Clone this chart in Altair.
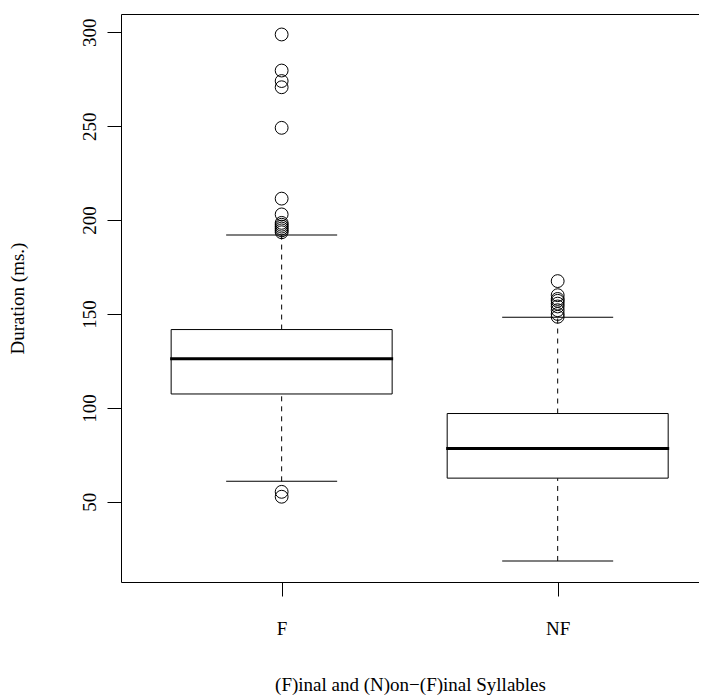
import altair as alt
import pandas as pd

groups = ["F", "NF"]
q1 = [107.4, 62.6]
median = [126.1, 78.4]
q3 = [141.7, 97.0]
whisk_lo = [60.9, 18.5]
whisk_hi = [192.0, 148.2]

outliers_F = [298.8, 279.6, 274.0, 270.7, 249.1, 211.4, 203.0, 198.5, 197.5,
              196.5, 195.5, 194.5, 193.5, 55.3, 52.7]
outliers_NF = [167.5, 160.0, 158.0, 157.0, 155.5, 154.0, 152.0, 150.0, 148.5]

y_ticks = [50, 100, 150, 200, 250, 300]

stats = pd.DataFrame({
    "group": groups, "q1": q1, "median": median, "q3": q3,
    "lo": whisk_lo, "hi": whisk_hi,
})
outs = pd.DataFrame({
    "group": ["F"] * len(outliers_F) + ["NF"] * len(outliers_NF),
    "value": outliers_F + outliers_NF,
})

FONT = "Liberation Serif"

xenc = alt.X(
    "group:N",
    scale=alt.Scale(type="point", padding=0.547, align=0.532),
    sort=groups,
    axis=alt.Axis(
        title="(F)inal and (N)on\u2212(F)inal Syllables",
        labelAngle=0, tickSize=14, labelPadding=23, titlePadding=37,
        domain=False, grid=False, tickColor="black", labelColor="black",
        titleColor="black",
    ),
)
yscale = alt.Scale(domain=[7.3, 309.7], nice=False, zero=False)
yaxis = alt.Axis(
    title="Duration (ms.)", values=y_ticks, labelAngle=270,
    labelAlign="center", labelBaseline="bottom", tickSize=14,
    labelPadding=8, titlePadding=53, domain=False, grid=False,
    tickColor="black", labelColor="black", titleColor="black",
)

base = alt.Chart(stats)

upper = base.mark_rule(color="black", strokeWidth=1, strokeDash=[5, 5]).encode(
    x=xenc,
    y=alt.Y("q3:Q", scale=yscale, axis=yaxis),
    y2="hi:Q",
)
lower = base.mark_rule(color="black", strokeWidth=1, strokeDash=[5, 5]).encode(
    x=xenc, y=alt.Y("lo:Q", scale=yscale), y2="q1:Q"
)
cap_hi = base.mark_tick(color="black", size=111, thickness=1, opacity=1).encode(
    x=xenc, y=alt.Y("hi:Q", scale=yscale)
)
cap_lo = base.mark_tick(color="black", size=111, thickness=1, opacity=1).encode(
    x=xenc, y=alt.Y("lo:Q", scale=yscale)
)
box = base.mark_bar(size=221, fill="white", stroke="black", strokeWidth=1,
                    opacity=1).encode(
    x=xenc, y=alt.Y("q1:Q", scale=yscale), y2="q3:Q"
)
med = base.mark_tick(color="black", size=223, thickness=3, opacity=1).encode(
    x=xenc, y=alt.Y("median:Q", scale=yscale)
)
pts = alt.Chart(outs).mark_point(
    shape="circle", filled=False, size=165, stroke="black", strokeWidth=1, opacity=1
).encode(x=xenc, y=alt.Y("value:Q", scale=yscale))

chart = alt.layer(upper, lower, cap_hi, cap_lo, box, med, pts).properties(
    width=578, height=568,
    autosize=alt.AutoSizeParams(type="none"),
    padding={"left": 113, "top": 6, "right": 0, "bottom": 118},
    background="white",
).configure_view(
    stroke="black", strokeWidth=1
).configure_axis(
    labelFont=FONT, titleFont=FONT, labelFontSize=19, titleFontSize=19,
    titleFontWeight="normal",
)

chart.save("out.html", embed_options={"renderer": "svg", "actions": False})
